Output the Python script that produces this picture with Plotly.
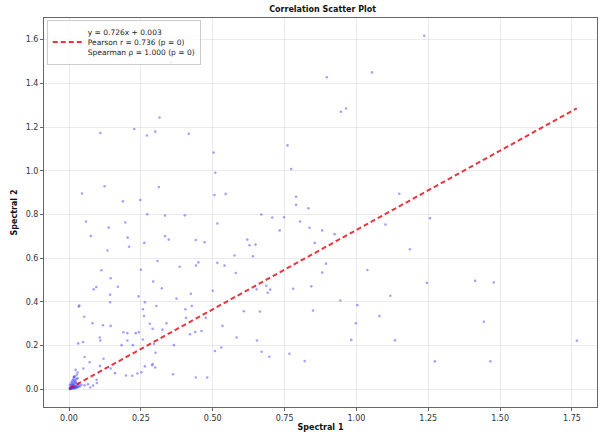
import plotly.graph_objects as go

# Spectral 1 / Spectral 2 sample pairs
spectral_1 = [
    1.236, 0.354, 0.315, 0.109, 0.227, 0.271, 0.300, 0.417, 0.503,
    0.509, 0.045, 0.124, 0.3125, 0.1875, 0.248, 0.506, 0.545, 0.272, 0.334, 0.403,
    0.059, 0.138, 0.196, 0.516, 0.076, 0.204, 0.334, 0.347, 0.441, 0.472,
    0.209, 0.262, 0.134, 0.620, 0.628, 0.649, 0.640, 0.576, 0.308, 0.385,
    0.442, 0.450, 0.516, 0.541, 0.580, 0.113, 0.250, 0.145, 0.086, 0.095,
    0.170, 0.293, 0.143, 0.242, 0.323, 0.424, 0.374, 0.500, 0.653, 0.143,
    0.264, 0.036,
    0.897, 1.054, 0.946, 0.964, 0.760,
    0.773, 1.149, 0.790, 0.790, 0.833, 0.669, 0.707, 0.748, 1.256, 0.804,
    0.837, 1.101, 0.733, 0.881, 0.924, 0.855, 1.186, 0.894, 0.881, 1.038,
    1.245, 0.686, 0.700, 0.691, 0.780, 0.843, 1.118, 0.944, 1.003,
    1.413, 1.478, 1.443, 1.767, 1.273, 1.466,
    0.304, 0.405, 0.427, 0.407, 0.476, 0.608, 0.664, 0.849, 1.080, 0.998,
    0.339, 0.291, 0.325, 0.421, 0.439, 0.461, 0.534, 0.583, 0.654, 0.982,
    1.134, 0.365, 0.301, 0.508, 0.530, 0.670, 0.697, 0.767, 0.820, 0.291,
    0.300, 0.362, 0.441, 0.481,
    0.034, 0.053, 0.082, 0.118, 0.145, 0.257, 0.261, 0.281, 0.189, 0.203,
    0.232, 0.243, 0.107, 0.109, 0.032, 0.049, 0.183, 0.203, 0.222, 0.257,
    0.296, 0.054, 0.120, 0.072, 0.108, 0.050, 0.145, 0.160, 0.198, 0.220,
    0.238, 0.252, 0.264, 0.289, 0.023, 0.030, 0.017, 0.030, 0.096, 0.097,
    0.066, 0.084, 0.043, 0.054, 0.074,
    0.002, 0.004, 0.005, 0.006, 0.008, 0.009, 0.010, 0.011, 0.012, 0.013,
    0.014, 0.015, 0.016, 0.017, 0.018, 0.019, 0.020, 0.021, 0.022, 0.024,
    0.025, 0.026, 0.028, 0.030, 0.003, 0.007, 0.009, 0.012, 0.015, 0.018,
    0.020, 0.023, 0.027, 0.032, 0.035, 0.004, 0.006, 0.010, 0.013, 0.016,
    0.019, 0.022, 0.026, 0.031, 0.038,
]
spectral_2 = [
    1.618, 1.496, 1.244, 1.173, 1.191, 1.161, 1.179, 1.169, 1.083,
    0.991, 0.896, 0.929, 0.926, 0.860, 0.866, 0.889, 0.894, 0.801, 0.795, 0.796,
    0.768, 0.740, 0.763, 0.759, 0.701, 0.694, 0.701, 0.685, 0.683, 0.673,
    0.652, 0.670, 0.635, 0.685, 0.659, 0.662, 0.609, 0.612, 0.587, 0.561,
    0.566, 0.581, 0.579, 0.566, 0.532, 0.545, 0.547, 0.508, 0.458, 0.468,
    0.469, 0.493, 0.433, 0.425, 0.462, 0.437, 0.415, 0.451, 0.458, 0.398,
    0.398, 0.383,
    1.428, 1.450, 1.270, 1.285, 1.116,
    1.008, 0.895, 0.881, 0.844, 0.828, 0.800, 0.786, 0.787, 0.783, 0.768,
    0.739, 0.754, 0.727, 0.727, 0.710, 0.670, 0.641, 0.575, 0.534, 0.546,
    0.487, 0.474, 0.456, 0.442, 0.460, 0.471, 0.428, 0.406, 0.385,
    0.496, 0.489, 0.309, 0.222, 0.128, 0.128,
    0.381, 0.366, 0.381, 0.327, 0.327, 0.357, 0.356, 0.360, 0.335, 0.302,
    0.302, 0.277, 0.273, 0.252, 0.262, 0.267, 0.290, 0.237, 0.223, 0.226,
    0.224, 0.202, 0.167, 0.175, 0.191, 0.172, 0.149, 0.163, 0.129, 0.116,
    0.100, 0.069, 0.054, 0.054,
    0.379, 0.332, 0.302, 0.293, 0.290, 0.366, 0.335, 0.300, 0.261, 0.257,
    0.257, 0.261, 0.237, 0.223, 0.210, 0.216, 0.202, 0.223, 0.202, 0.228,
    0.208, 0.148, 0.140, 0.124, 0.107, 0.095, 0.095, 0.074, 0.063, 0.062,
    0.072, 0.078, 0.105, 0.110, 0.089, 0.077, 0.056, 0.051, 0.044, 0.029,
    0.023, 0.017, 0.021, 0.018, 0.008,
    0.003, 0.006, 0.012, 0.004, 0.010, 0.018, 0.007, 0.015, 0.022, 0.009,
    0.028, 0.013, 0.019, 0.035, 0.011, 0.024, 0.016, 0.041, 0.008, 0.030,
    0.014, 0.047, 0.021, 0.012, 0.020, 0.026, 0.033, 0.040, 0.046, 0.055,
    0.060, 0.034, 0.066, 0.025, 0.018, 0.001, 0.002, 0.003, 0.005, 0.006,
    0.004, 0.009, 0.007, 0.010, 0.013,
]

# Linear fit and correlation statistics
slope = 0.726
intercept = 0.003
pearson_r = 0.736
spearman_rho = 1.000

fit_x = [min(spectral_1), max(spectral_1)]
fit_y = [slope * v + intercept for v in fit_x]

fit_label = (
    f"y = {slope:.3f}x + {intercept:.3f}<br>"
    f"Pearson r = {pearson_r:.3f} (p = 0)<br>"
    f"Spearman \u03c1 = {spearman_rho:.3f} (p = 0)"
)

font_family = "DejaVu Sans, Arial, sans-serif"

fig = go.Figure()
fig.add_trace(go.Scatter(
    x=spectral_1, y=spectral_2, mode="markers",
    marker=dict(size=2.6, color="rgba(50,50,255,0.45)", line=dict(width=0)),
    showlegend=False,
))
fig.add_trace(go.Scatter(
    x=fit_x, y=fit_y, mode="lines",
    line=dict(color="rgba(225,20,30,0.85)", width=2, dash="5px,3px"),
    name=fit_label,
))

axis_common = dict(
    showgrid=True, gridcolor="rgba(0,0,0,0.08)", gridwidth=1,
    zeroline=False, showline=True, linecolor="#666", linewidth=1, mirror=True,
    ticks="outside", ticklen=3, tickcolor="#666",
    tickfont=dict(family=font_family, size=8, color="#333"),
)

fig.update_layout(
    width=602, height=434,
    margin=dict(l=44, r=4, t=18, b=22),
    paper_bgcolor="white", plot_bgcolor="white",
    title=dict(text="<b>Correlation Scatter Plot</b>", x=0.536, xanchor="center",
               y=0.985, yanchor="top",
               font=dict(family=font_family, size=8, color="#111")),
    xaxis=dict(axis_common, range=[-0.087, 1.837],
               tickvals=[0, 0.25, 0.5, 0.75, 1.0, 1.25, 1.5, 1.75],
               tickformat=".2f",
               title=dict(text="<b>Spectral 1</b>", standoff=2,
                          font=dict(family=font_family, size=8, color="#111"))),
    yaxis=dict(axis_common, range=[-0.081, 1.699],
               tickvals=[0, 0.2, 0.4, 0.6, 0.8, 1.0, 1.2, 1.4, 1.6],
               tickformat=".1f",
               title=dict(text="<b>Spectral 2</b>", standoff=6,
                          font=dict(family=font_family, size=8, color="#111"))),
    legend=dict(x=0.005, y=0.995, xanchor="left", yanchor="top",
                bgcolor="rgba(255,255,255,0.8)", bordercolor="#ccc", borderwidth=1,
                font=dict(family=font_family, size=7.5, color="#222"),
                itemwidth=30, tracegroupgap=0),
)

fig.write_html("out.html")
